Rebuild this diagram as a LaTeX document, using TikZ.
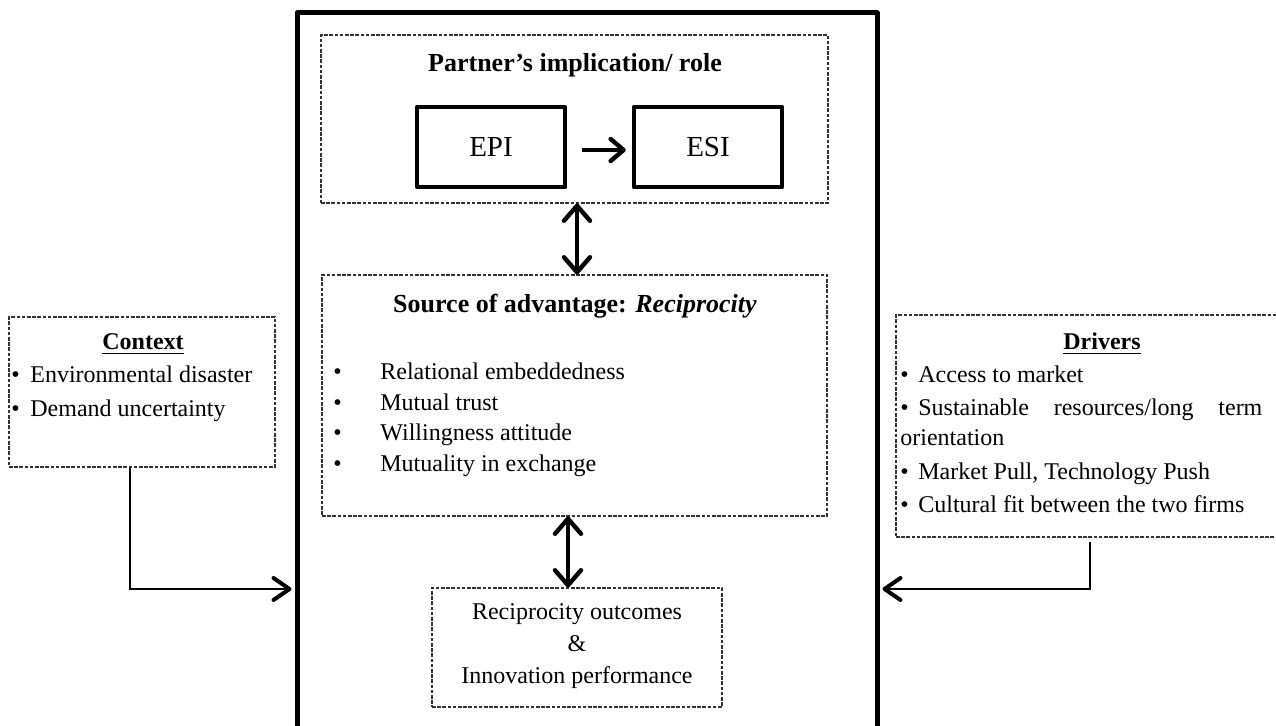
\documentclass[tikz,border=0pt]{standalone}
\usepackage{fontspec}
\setmainfont{Liberation Serif}
\usetikzlibrary{arrows.meta,fit,calc}
\begin{document}
\begin{tikzpicture}[x=0.5pt,y=-0.5pt,
  dbox/.style={draw=black!80, line width=0.55pt, dash pattern=on 1.8pt off 0.8pt, inner sep=0pt},
  outerframe/.style={draw, line width=2.5pt, line join=round, inner sep=0pt},
  solidbox/.style={draw, line width=2.2pt, line join=round, inner sep=0pt, font=\fontsize{14.5}{16}\selectfont},
  txt/.style={inner sep=0pt, anchor=base west, font=\fontsize{12}{14}\selectfont},
  ctxt/.style={inner sep=0pt, anchor=base, font=\fontsize{12}{14}\selectfont},
  ttl/.style={inner sep=0pt, anchor=base, font=\fontsize{13}{15}\selectfont\bfseries},
  hdr/.style={inner sep=0pt, anchor=base, font=\fontsize{12}{14}\selectfont\bfseries},
  dbl/.style={line width=1.75pt, {Straight Barb[length=7.5pt,width=13pt,line width=2.2pt,round]}-{Straight Barb[length=7.5pt,width=13pt,line width=2.2pt,round]}},
  fwd/.style={line width=2.2pt, -{Straight Barb[length=6.5pt,width=11pt,line width=2.2pt,round]}},
  conn/.style={line width=1pt, -{Straight Barb[length=8pt,width=11pt,line width=2pt,round]}},
]
\useasboundingbox (0,0) rectangle (1276,726);

% outer frame
\node[outerframe, fit={(297,13) (877,800)}] (frame) {};

% partner box
\node[dbox, fit={(321,35) (828,203)}] (partner) {};
\node[ttl] (ptitle) at (575,72) {Partner’s implication/ role};
\node[solidbox, minimum width=74pt, minimum height=40pt] (epi) at (491,147) {EPI};
\node[solidbox, minimum width=74pt, minimum height=40pt] (esi) at (708,147) {ESI};
\draw[fwd] ([xshift=7.5pt,yshift=-1.5pt]epi.east) -- ([xshift=-3pt,yshift=-1.5pt]esi.west);

% source box
\node[dbox, fit={(322,275) (827,516)}] (source) {};
\node[ttl] (stitle) at (575,313) {Source of advantage: \textit{Reciprocity}};
\node[txt] (s1) at (333,380) {\hbox to 23.5pt{•\hfil}Relational embeddedness};
\node[txt] (s2) at (333,410.5) {\hbox to 23.5pt{•\hfil}Mutual trust};
\node[txt] (s3) at (333,441) {\hbox to 23.5pt{•\hfil}Willingness attitude};
\node[txt] (s4) at (333,471.5) {\hbox to 23.5pt{•\hfil}Mutuality in exchange};

% outcome box
\node[dbox, fit={(432,588) (722,707)}] (outcome) {};
\node[ctxt] (o1) at (577,620) {Reciprocity outcomes};
\node[ctxt] (o2) at (577,652) {\&};
\node[ctxt] (o3) at (577,684) {Innovation performance};

\draw[dbl] ([xshift=1.25pt]partner.south) -- ([xshift=1.25pt]source.north);
\draw[dbl] ([xshift=-3.25pt]source.south) -- ([xshift=-4.5pt]outcome.north);

% context box
\node[dbox, fit={(9,317) (275,467)}] (context) {};
\node[hdr] (chead) at (143,350) {\underline{Context}};
\node[txt] (c1) at (11,383) {\hbox to 9.5pt{•\hfil}Environmental disaster};
\node[txt] (c2) at (11,417) {\hbox to 9.5pt{•\hfil}Demand uncertainty};

% drivers box
\node[dbox, fit={(896,315) (1308,537)}] (drivers) {};
\node[hdr] (dhead) at (1102,350) {\underline{Drivers}};
\node[txt] (d1) at (900,383) {\hbox to 9pt{•\hfil}Access to market};
\node[txt] (d2) at (900,416) {\hbox to 181pt{\hbox to 9pt{•\hfil}Sustainable\hfill resources/long\hfill term}};
\node[txt] (d3) at (900,446) {orientation};
\node[txt] (d4) at (900,480) {\hbox to 9pt{•\hfil}Market Pull, Technology Push};
\node[txt] (d5) at (900,513) {\hbox to 9pt{•\hfil}Cultural fit between the two firms};

% connectors
\coordinate (cy) at (0,589);
\draw[conn] ([xshift=-6pt]context.south) |- ($(frame.west |- cy)+(-1.5pt,0)$);
\draw[conn] ($(drivers.south)+(-6pt,-2pt)$) |- ($(frame.east |- cy)+(1.5pt,0)$);
\end{tikzpicture}
\end{document}
